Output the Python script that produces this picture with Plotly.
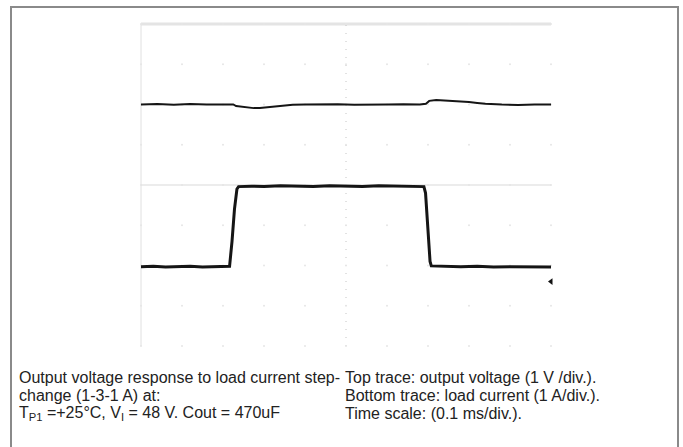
import plotly.graph_objects as go

# ---- data ----
# time axis in ms (0.1 ms/div, 10 div)
v_time = [0, 0.04, 0.08, 0.12, 0.16, 0.20, 0.225, 0.232, 0.245, 0.26, 0.275, 0.29, 0.31, 0.33,
          0.35, 0.37, 0.40, 0.44, 0.48, 0.52, 0.56, 0.60, 0.64, 0.68, 0.695, 0.703, 0.72, 0.74,
          0.76, 0.78, 0.80, 0.82, 0.84, 0.88, 0.92, 0.96, 1.0]
# output voltage deviation (V)
v_dev = [0, 0.01, -0.005, 0.01, 0.0, 0.005, 0.0, -0.04, -0.06, -0.08, -0.09, -0.085, -0.065, -0.04,
         -0.02, -0.005, 0.0, 0.01, 0.005, -0.005, 0.005, 0.0, 0.005, 0.0, 0.02, 0.09, 0.11, 0.10,
         0.095, 0.08, 0.06, 0.04, 0.02, 0.0, -0.01, 0.0, 0.0]

i_time = [0, 0.03, 0.06, 0.09, 0.12, 0.15, 0.18, 0.21, 0.216, 0.222, 0.228, 0.234, 0.238,
          0.27, 0.30, 0.34, 0.38, 0.42, 0.46, 0.50, 0.54, 0.58, 0.62, 0.66, 0.690, 0.694,
          0.700, 0.705, 0.708, 0.74, 0.78, 0.82, 0.86, 0.90, 0.94, 0.98, 1.0]
# load current (A)
i_load = [0.97, 0.98, 0.96, 0.97, 0.98, 0.96, 0.97, 0.97, 0.98, 1.6, 2.4, 2.9, 2.96,
          2.97, 2.96, 2.98, 2.97, 2.96, 2.98, 2.97, 2.96, 2.98, 2.97, 2.96, 2.96, 2.8,
          1.8, 1.1, 0.99, 0.98, 0.97, 0.98, 0.96, 0.97, 0.97, 0.96, 0.96]

v_offset_div = 2.0      # top trace position (1 V/div)
i_center = 3.0          # current at screen centre (1 A/div)
gnd_marker_div = -2.4

caption_left = ["Output voltage response to load current step-",
                "change (1-3-1 A) at:",
                "T<sub>P1</sub> =+25°C, V<sub>I</sub> = 48 V. Cout = 470uF"]
caption_right = ["Top trace: output voltage (1 V /div.).",
                 "Bottom trace: load current (1 A/div.).",
                 "Time scale: (0.1 ms/div.)."]

# ---- layout geometry (pixels) ----
W, H = 683, 447
L, R, T, B = 141, 551, 24, 346


def px(x):
    return (x - L) / (R - L)


def py(y):
    return (B - y) / (B - T)


fig = go.Figure()

# faint division dots
gx, gy = [], []
for i in range(11):
    for j in range(-4, 5):
        gx.append(i * 0.1)
        gy.append(j)
fig.add_trace(go.Scatter(x=gx, y=gy, mode="markers",
                         marker=dict(size=2, color="#e6e6e6"), hoverinfo="skip",
                         showlegend=False, cliponaxis=False))

# traces
fig.add_trace(go.Scatter(x=v_time, y=[v_offset_div + d for d in v_dev], mode="lines",
                         line=dict(color="#151515", width=2), showlegend=False))
fig.add_trace(go.Scatter(x=i_time, y=[c - i_center for c in i_load], mode="lines",
                         line=dict(color="#151515", width=3), showlegend=False))

# ground marker
fig.add_trace(go.Scatter(x=[1.0], y=[gnd_marker_div], mode="markers",
                         marker=dict(symbol="triangle-left", size=6, color="#111111"),
                         showlegend=False, cliponaxis=False))

shapes = [
    # centre horizontal line
    dict(type="line", xref="x", yref="y", x0=0, x1=1.0, y0=0, y1=0,
         line=dict(color="#d9d9d9", width=1), layer="below"),
    # centre vertical dotted line
    dict(type="line", xref="x", yref="y", x0=0.5, x1=0.5, y0=-4, y1=4,
         line=dict(color="#c4c4c4", width=1, dash="1px,7px"), layer="below"),
    # top border of screen
    dict(type="line", xref="paper", yref="paper", x0=0, x1=1, y0=1, y1=1,
         line=dict(color="#e4e4e4", width=3), layer="below"),
    # left border of screen
    dict(type="line", xref="paper", yref="paper", x0=0, x1=0, y0=0, y1=1,
         line=dict(color="#e0e0e0", width=1), layer="below"),
    # outer frame
    dict(type="rect", xref="paper", yref="paper", x0=px(11), x1=px(678), y0=py(470), y1=py(7),
         line=dict(color="#8a8a8a", width=2), fillcolor="rgba(0,0,0,0)", layer="below"),
]

font = dict(family="Liberation Sans, Arial", size=16, color="#222")
annotations = []
for k, txt in enumerate(caption_left):
    annotations.append(dict(x=px(17), y=py(377 + 18 * k), xref="paper", yref="paper",
                            text=txt, showarrow=False, xanchor="left", yanchor="middle",
                            font=font))
for k, txt in enumerate(caption_right):
    annotations.append(dict(x=px(343), y=py(377 + 18 * k), xref="paper", yref="paper",
                            text=txt, showarrow=False, xanchor="left", yanchor="middle",
                            font=font))

fig.update_layout(
    width=W, height=H,
    margin=dict(l=L, r=W - R, t=T, b=H - B),
    paper_bgcolor="white", plot_bgcolor="white",
    shapes=shapes, annotations=annotations,
    xaxis=dict(range=[0, 1.0], showgrid=False, zeroline=False, showticklabels=False,
               ticks="", showline=False, fixedrange=True),
    yaxis=dict(range=[-4, 4], showgrid=False, zeroline=False, showticklabels=False,
               ticks="", showline=False, fixedrange=True),
    showlegend=False,
)

fig.write_html("out.html", config={"displayModeBar": False},
               post_script="document.body.style.margin='0';document.body.style.overflow='hidden';")
